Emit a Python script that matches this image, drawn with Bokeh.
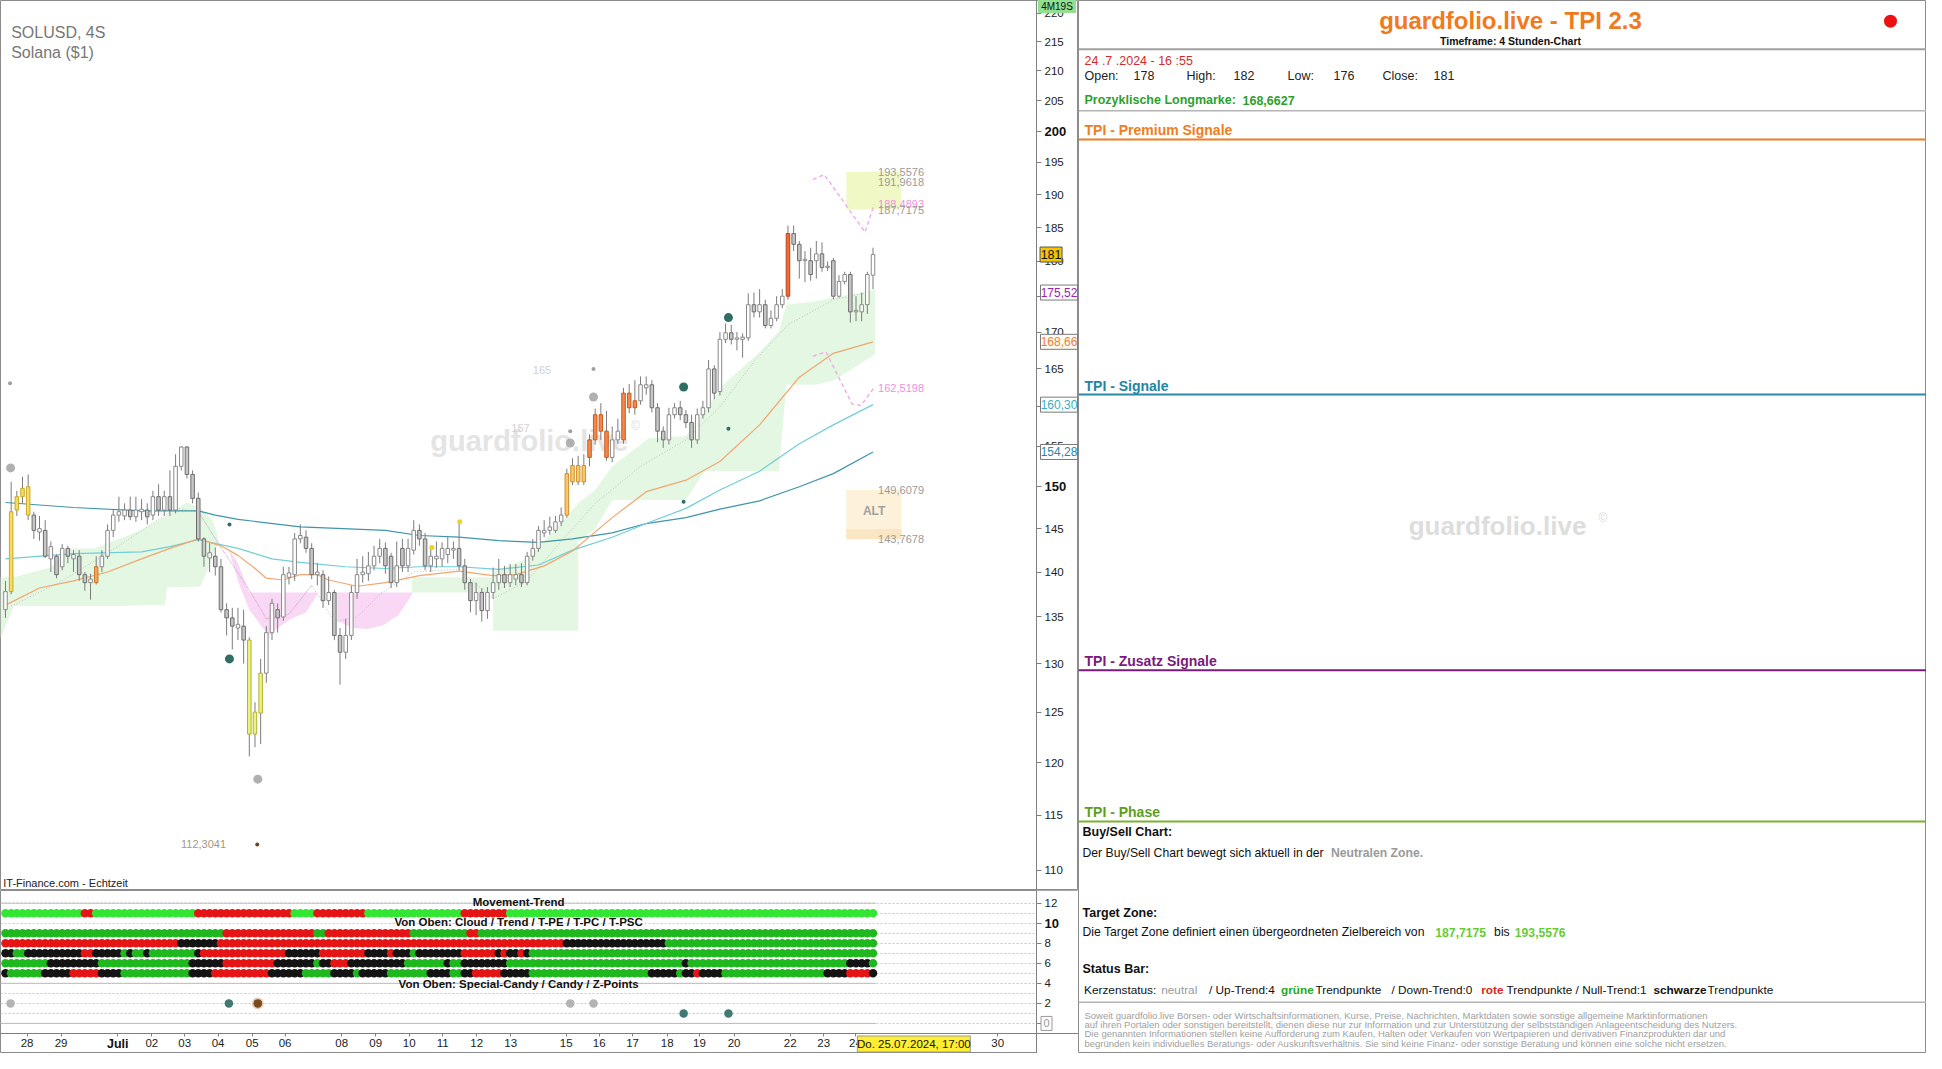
from bokeh.plotting import figure
from bokeh.layouts import row, column
from bokeh.models import Range1d, FixedTicker, NumeralTickFormatter
from bokeh.core.properties import value
from bokeh.embed import file_html
from bokeh.resources import INLINE

SANS = "'Liberation Sans', Arial, sans-serif"
NARROW = "'Liberation Sans Narrow', 'Arial Narrow', 'Liberation Sans', Arial, sans-serif"

# ---------------- price data (4h candles, SOLUSD) ----------------
OPEN = [135.8, 137.8, 147.2, 148.8, 150.0, 146.6, 144.6, 144.8, 141.5, 141.8,
        140.6, 142.7, 141.5, 141.8, 139.7, 138.8, 138.8, 140.6, 141.8, 144.8,
        146.6, 146.5, 147.2, 146.4, 147.0, 147.2, 146.6, 148.8, 147.2, 148.8,
        147.2, 152.5, 154.9, 151.5, 148.6, 143.8, 141.6, 141.8, 140.6, 135.8,
        134.9, 133.8, 134.0, 132.5, 122.8, 124.9, 129.0, 133.3, 135.8, 135.0,
        139.4, 139.7, 143.8, 144.0, 142.7, 139.7, 139.7, 136.8, 137.7, 133.0,
        131.2, 133.0, 137.7, 139.7, 139.8, 140.7, 141.8, 142.7, 141.8, 138.8,
        142.7, 140.7, 142.5, 144.8, 143.8, 140.7, 141.5, 141.5, 142.0, 142.5,
        142.7, 140.7, 138.8, 136.8, 137.7, 135.7, 137.7, 138.8, 139.7, 138.8,
        139.2, 139.7, 138.8, 141.8, 142.7, 144.5, 144.8, 144.8, 145.8, 146.6,
        150.6, 152.6, 150.6, 153.6, 155.8, 159.0, 156.9, 153.6, 155.8, 155.8,
        161.8, 159.9, 160.8, 162.5, 162.9, 159.9, 156.9, 155.8, 159.0, 159.9,
        159.0, 158.0, 155.8, 159.0, 159.9, 165.0, 162.0, 169.0, 169.9, 169.0,
        169.0, 169.2, 173.8, 172.8, 173.8, 170.9, 171.9, 173.8, 175.0, 184.1,
        182.5, 180.1, 180.1, 180.1, 181.1, 179.1, 180.1, 175.0, 177.1, 178.1,
        172.8, 172.8, 173.8, 178.0]
HIGH = [139.0, 150.6, 149.5, 151.2, 151.5, 147.0, 146.5, 146.0, 143.5, 142.0,
        143.2, 143.0, 142.5, 142.5, 140.0, 139.8, 141.8, 142.5, 145.5, 147.3,
        148.8, 148.0, 148.8, 148.8, 148.5, 148.0, 149.5, 150.3, 149.5, 152.0,
        154.0, 155.0, 155.0, 152.0, 149.3, 144.0, 143.3, 142.8, 141.5, 136.5,
        136.0, 136.0, 135.8, 132.8, 126.0, 130.5, 134.0, 137.0, 136.5, 140.6,
        140.6, 144.5, 145.5, 144.8, 143.3, 141.0, 140.2, 139.5, 138.0, 133.8,
        134.8, 138.5, 141.5, 141.8, 142.3, 143.0, 143.8, 143.4, 142.2, 143.5,
        143.8, 143.8, 146.0, 145.5, 144.5, 143.0, 143.5, 143.4, 144.0, 143.5,
        145.8, 141.5, 139.2, 138.8, 138.2, 138.3, 140.5, 141.5, 140.7, 140.9,
        140.9, 141.0, 142.3, 143.8, 145.3, 146.0, 146.4, 146.5, 147.5, 152.2,
        153.5, 153.8, 154.0, 156.5, 159.8, 160.5, 159.5, 157.5, 158.5, 162.5,
        163.0, 163.5, 164.0, 164.0, 163.5, 160.5, 157.5, 159.9, 160.5, 160.8,
        159.6, 159.0, 159.8, 160.8, 166.2, 165.5, 170.0, 171.2, 171.0, 170.0,
        169.8, 175.4, 175.5, 176.0, 174.5, 173.0, 175.0, 176.0, 185.3, 185.3,
        183.0, 181.5, 182.0, 183.0, 182.8, 180.0, 180.5, 178.0, 178.5, 178.5,
        175.0, 175.5, 178.5, 182.0]
LOW = [134.9, 137.5, 146.5, 148.0, 146.0, 143.8, 143.6, 141.6, 140.0, 139.3,
       140.2, 141.0, 140.0, 139.0, 137.9, 136.9, 138.6, 140.0, 141.5, 144.0,
       145.8, 146.0, 146.0, 145.8, 146.0, 145.5, 146.0, 146.5, 146.5, 146.5,
       146.8, 152.0, 151.0, 148.0, 143.5, 140.6, 140.0, 139.6, 135.5, 133.0,
       131.5, 132.5, 130.0, 120.6, 121.5, 121.8, 128.0, 132.5, 133.3, 134.6,
       138.6, 139.0, 143.3, 142.2, 139.2, 138.5, 136.0, 136.3, 132.5, 127.8,
       130.5, 132.5, 137.0, 138.8, 139.0, 140.2, 141.0, 139.8, 138.2, 138.3,
       140.0, 140.0, 142.0, 143.0, 140.2, 140.0, 140.5, 140.6, 141.0, 141.5,
       140.2, 138.0, 135.5, 135.2, 134.5, 134.8, 137.0, 138.0, 138.2, 138.3,
       138.5, 138.3, 138.5, 141.3, 142.3, 144.0, 144.3, 144.5, 145.3, 146.3,
       150.2, 150.2, 150.2, 152.5, 155.2, 155.8, 153.2, 153.0, 155.3, 155.3,
       159.2, 159.0, 160.3, 161.6, 159.3, 155.5, 154.8, 155.2, 158.5, 158.3,
       157.3, 154.8, 155.3, 158.5, 159.3, 161.0, 161.5, 168.5, 168.3, 167.5,
       166.5, 168.8, 172.0, 172.0, 170.5, 170.5, 171.5, 173.3, 174.5, 181.5,
       177.5, 177.0, 177.2, 177.5, 178.5, 178.6, 174.6, 174.8, 176.7, 171.3,
       171.5, 171.5, 172.5, 176.0]
CLOSE = [137.8, 147.0, 148.8, 149.8, 146.6, 144.8, 145.0, 141.8, 142.9, 139.7,
         142.7, 141.8, 142.0, 139.7, 138.8, 139.2, 140.6, 141.8, 144.8, 146.6,
         147.0, 147.2, 146.4, 147.2, 147.3, 146.4, 148.8, 147.2, 148.8, 147.2,
         152.5, 154.9, 151.5, 148.6, 143.8, 141.8, 142.2, 140.6, 135.8, 134.9,
         134.0, 134.2, 132.5, 122.8, 125.0, 129.0, 133.3, 136.5, 134.9, 139.7,
         139.9, 143.8, 144.2, 142.7, 139.7, 140.0, 136.8, 137.7, 133.0, 131.2,
         133.0, 137.7, 139.7, 140.0, 140.7, 141.8, 142.7, 140.7, 138.8, 140.7,
         140.7, 142.7, 144.8, 143.8, 140.7, 141.8, 141.8, 142.7, 142.7, 142.7,
         140.7, 138.8, 136.8, 137.7, 135.7, 137.7, 138.8, 139.7, 138.8, 139.7,
         139.7, 138.8, 141.8, 142.7, 144.8, 144.8, 145.2, 145.8, 146.6, 151.6,
         152.6, 150.6, 152.6, 155.8, 159.0, 156.9, 153.6, 155.8, 156.9, 161.8,
         159.9, 160.8, 162.9, 162.9, 159.9, 156.9, 155.8, 159.0, 159.9, 159.0,
         158.0, 155.8, 159.0, 159.9, 165.0, 161.8, 169.0, 169.9, 169.0, 169.2,
         169.3, 173.8, 172.8, 173.8, 170.9, 171.9, 173.8, 175.0, 184.1, 182.5,
         180.1, 180.3, 178.1, 181.1, 179.1, 179.3, 175.0, 177.1, 178.1, 172.8,
         173.0, 173.8, 178.1, 181.0]
N = len(OPEN)
IDX = list(range(N))

# special candle colouring (signal candles)
CANDLE_MARK = {1: "y", 2: "y", 3: "y", 4: "y", 16: "p", 43: "l", 44: "l", 45: "l",
               99: "a", 100: "a", 101: "a", 102: "a", 103: "o", 104: "o", 105: "o",
               106: "o", 109: "o", 110: "o", 111: "o", 138: "r"}
MARK_FILL = {"y": "#f8dc5e", "l": "#eef27e", "a": "#f8c76a", "o": "#f2894a",
             "p": "#f4a45a", "r": "#f06a32"}
MARK_LINE = {"y": "#c8a92a", "l": "#b0b03a", "a": "#d09030", "o": "#c75a1c",
             "p": "#c97a30", "r": "#b8441a"}

# ---------------- indicator lines ----------------
EMA_FAST_X = [0, 6, 12, 18, 24, 29, 34, 38, 41, 44, 46, 49, 52, 55, 57, 62, 67, 73, 80,
              86, 90, 95, 100, 107, 113, 120, 126, 133, 140, 146, 153]
EMA_FAST = [136.3, 138.2, 139.0, 140.0, 141.5, 142.7, 143.8, 143.0, 141.9, 140.4, 139.3,
            139.1, 139.7, 139.7, 139.1, 138.4, 138.8, 139.6, 140.1, 139.6, 139.7, 140.7,
            142.4, 146.3, 149.4, 150.8, 153.1, 157.7, 163.9, 167.1, 168.66]
EMA_MID_X = [0, 12, 24, 29, 34, 41, 47, 52, 60, 67, 73, 80, 87, 94, 100, 107, 113, 120,
             126, 133, 140, 146, 153]
EMA_MID = [141.5, 142.1, 142.3, 142.9, 143.7, 142.7, 141.5, 141.1, 140.6, 140.4, 140.6,
           140.6, 140.3, 140.8, 142.5, 144.0, 145.6, 147.4, 149.6, 151.9, 155.3, 157.7,
           160.30]
SMA_SLOW_X = [0, 12, 24, 34, 37, 41, 52, 67, 73, 80, 87, 94, 100, 107, 113, 120, 126,
              133, 140, 146, 153]
SMA_SLOW = [148.1, 147.5, 147.1, 147.1, 146.6, 146.1, 145.2, 144.8, 144.2, 144.0, 143.6,
            143.4, 143.8, 144.5, 145.6, 146.3, 147.3, 148.3, 150.0, 151.6, 154.28]
KIJUN_X = [1, 10, 20, 30, 34, 38, 43, 46, 50, 54, 58, 62, 66, 72, 80, 86, 92, 98, 104,
           112, 120, 126, 132, 138, 146, 152]
KIJUN = [136.2, 139.0, 143.0, 147.4, 147.0, 142.8, 138.0, 134.8, 135.3, 138.5, 134.5,
         135.0, 137.5, 140.0, 140.3, 137.0, 139.0, 143.5, 148.0, 152.5, 155.8, 160.0,
         166.0, 171.0, 174.5, 175.5]

CLOUD1_X = [-0.9, 1.5, 8, 11.5, 15.6, 20, 23.8, 28.1, 28.5, 32, 34.4, 36.5, 37.5]
CLOUD1_UP = [139.4, 139.4, 140.5, 142.7, 142.7, 143.8, 144.8, 146.4, 146.6, 148.1, 147.4,
             146.0, 144.0]
CLOUD1_LO = [132.7, 136.2, 136.2, 136.2, 136.2, 136.2, 136.3, 136.3, 138.3, 138.3, 138.4,
             141.5, 143.5]
CLOUD2_X = [71.7, 86.0, 86.01, 92, 98.3, 101, 101.01, 104, 107, 113.5, 120, 123.3, 126.6,
            133.1, 136.4, 137.7, 142.9, 146.2, 153.4]
CLOUD2_UP = [139.4, 139.4, 140.0, 141.5, 145.9, 148.0, 148.0, 149.6, 152.5, 156.0, 156.3,
             159.4, 162.9, 167.3, 170.1, 173.8, 174.3, 174.8, 175.9]
CLOUD2_LO = [137.7, 137.7, 133.5, 133.5, 133.5, 133.5, 143.5, 145.0, 148.4, 148.4, 148.4,
             151.9, 151.9, 151.9, 151.9, 162.9, 162.9, 163.5, 167.0]
PINK1_X = [39.5, 41, 43, 46.4, 48, 50.4, 53, 55]
PINK1_UP = [142.5, 141.0, 137.7, 137.7, 137.7, 137.7, 137.7, 137.7]
PINK1_LO = [142.3, 139.0, 135.8, 133.0, 133.8, 134.8, 135.5, 137.5]
PINK2_X = [58.5, 61.2, 63.9, 66.6, 69.3, 71.7]
PINK2_UP = [137.7, 137.7, 137.7, 137.7, 137.7, 137.7]
PINK2_LO = [134.6, 133.8, 133.7, 134.1, 135.2, 137.5]

ZIG_UP_X = [142.4, 144.4, 151.6, 153.2]
ZIG_UP = [192.3, 193.1, 184.3, 188.4893]
ZIG_LO_X = [142.4, 144.7, 149.3, 150.9, 153.2]
ZIG_LO = [166.7, 167.3, 160.4, 160.2, 162.5198]

TARGET_LOW, TARGET_MID_A, TARGET_MID_B, TARGET_HIGH = 187.7175, 188.4893, 191.9618, 193.5576
ALT_LOW, ALT_HIGH = 143.7678, 149.6079
PINK_LEVEL = 162.5198
LOW_MARK = 112.3041

BIG_GRAY_X = [0.9, 44.5, 99.6, 103.7]
BIG_GRAY_Y = [152.3, 118.4, 155.4, 161.3]
SMALL_GRAY_X = [0.8, 99.6, 103.7]
SMALL_GRAY_Y = [163.1, 156.9, 165.0]
BIG_TEAL_X = [39.5, 119.6, 127.5]
BIG_TEAL_Y = [130.5, 162.6, 172.0]
SMALL_TEAL_X = [39.5, 119.6, 127.5]
SMALL_TEAL_Y = [145.5, 148.2, 157.2]
YELLOW_X = [75.2, 80.1]
YELLOW_Y = [142.8, 145.8]
BROWN_X = [44.4]

LAST_CLOSE = 181
LEVEL_PURPLE = 175.52
LEVEL_ORANGE = 168.66
LEVEL_CYAN = 160.30
LEVEL_TEAL = 154.28

PRICE_TICKS = [110, 115, 120, 125, 130, 135, 140, 145, 150, 155, 160, 165, 170, 175,
               180, 185, 190, 195, 200, 205, 210, 215, 220]

# ---------------- status dots (run lengths per candle) ----------------
MOVEMENT = [("G", 14), ("R", 2), ("G", 18), ("R", 17), ("G", 4), ("R", 9), ("G", 17),
            ("R", 8), ("G", 65)]
CLOUD_ROW = [("G", 39), ("R", 16), ("G", 2), ("R", 15), ("G", 10), ("R", 2), ("G", 70)]
TREND_ROW = [("R", 31), ("K", 7), ("R", 61), ("K", 18), ("G", 37)]
TPE_ROW = [("K", 2), ("G", 2), ("K", 10), ("R", 2), ("K", 5), ("G", 1), ("K", 1), ("G", 2),
           ("K", 1), ("G", 8), ("K", 1), ("R", 15), ("K", 6), ("R", 8), ("K", 4), ("R", 1),
           ("K", 3), ("G", 1), ("K", 8), ("R", 6), ("K", 1), ("R", 1), ("K", 2), ("R", 1),
           ("K", 1), ("G", 61)]
TPC_ROW = [("G", 8), ("K", 9), ("G", 16), ("K", 6), ("R", 9), ("K", 7), ("G", 1), ("K", 2),
           ("R", 3), ("K", 10), ("G", 7), ("K", 1), ("G", 2), ("K", 8), ("G", 31), ("K", 1),
           ("G", 28), ("K", 4), ("G", 1)]
TPSC_ROW = [("K", 1), ("G", 6), ("K", 5), ("R", 5), ("K", 4), ("G", 12), ("K", 4), ("R", 10),
            ("K", 6), ("G", 5), ("K", 4), ("G", 1), ("K", 5), ("G", 7), ("K", 4), ("G", 2),
            ("K", 2), ("R", 5), ("K", 5), ("G", 21), ("K", 5), ("G", 1), ("K", 2), ("R", 1),
            ("K", 4), ("G", 18), ("K", 4), ("R", 4), ("K", 1)]
SPECIAL_CANDY_X = [0.9, 39.4, 44.5, 99.6, 103.7]
SPECIAL_CANDY_C = ["#b4b4b4", "#3f7b73", "#7a4a1e", "#b4b4b4", "#b4b4b4"]
ZPOINT_X = [119.6, 127.5]

DATE_POS = [3.8, 9.8, 19.8, 25.8, 31.6, 37.5, 43.5, 49.3, 59.3, 65.3, 71.2, 77.1, 83.1,
            89.1, 98.9, 104.7, 110.6, 116.7, 122.4, 128.5, 138.4, 144.3, 149.9, 175.0]
DATE_LBL = ["28", "29", "Juli", "02", "03", "04", "05", "06", "08", "09", "10", "11", "12",
            "13", "15", "16", "17", "18", "19", "20", "22", "23", "24", "30"]

# ---------------- layout constants ----------------
X_START, X_AXIS, X_END = -0.88, 181.84, 189.24   # frame left / price-axis line / right edge
XR = Range1d(X_START, X_END)


def ptxt(fig, x, y, s, color, size="11px", style="normal", align="left", font=SANS,
         level="glyph"):
    fig.text(x=[x], y=[y], text=[s], text_color=color, text_font_size=size,
             text_font_style=style, text_align=align, text_baseline="middle",
             text_font=value(font), level=level)


def boxed(fig, xc, y, w, h, s, color, bg, border, size="12px", style="normal"):
    fig.rect(x=[xc], y=[y], width=w, height=h, width_units="screen", height_units="screen",
             fill_color=bg, line_color=border, line_width=1, level="overlay")
    ptxt(fig, xc, y, s, color, size, style, "center", SANS, "overlay")


def style_axis(ax):
    ax.minor_tick_line_color = None
    ax.major_tick_in = 0
    ax.axis_line_color = "#808080"
    ax.major_tick_line_color = "#808080"
    ax.major_label_text_font = SANS
    ax.major_label_text_font_size = "11.5px"
    ax.major_label_text_color = "#222222"


# =====================================================================
p = figure(width=1078, height=890, x_range=XR, y_range=Range1d(108.2, 222.3),
           y_axis_type="log", y_axis_location="right", x_axis_location=None,
           toolbar_location=None, output_backend="svg",
           min_border_left=0, min_border_right=0, min_border_top=0, min_border_bottom=0,
           outline_line_color="#8c8c8c", background_fill_color="white",
           border_fill_color="white")
p.grid.visible = False
ya = p.yaxis[0]
ya.fixed_location = X_AXIS
ya.ticker = FixedTicker(ticks=PRICE_TICKS)
ya.formatter = NumeralTickFormatter(format="0")
ya.major_label_overrides = {150: " ", 200: " "}
ya.major_tick_out = 5
ya.major_label_standoff = 3
style_axis(ya)

# clouds
p.varea(x=CLOUD1_X, y1=CLOUD1_LO, y2=CLOUD1_UP, fill_color="#e3f7e3")
p.varea(x=CLOUD2_X, y1=CLOUD2_LO, y2=CLOUD2_UP, fill_color="#e3f7e3")
p.varea(x=PINK1_X, y1=PINK1_LO, y2=PINK1_UP, fill_color="#f9d8f5")
p.varea(x=PINK2_X, y1=PINK2_LO, y2=PINK2_UP, fill_color="#f9d8f5")

# zones
p.quad(left=148.3, right=158.0, bottom=TARGET_LOW, top=TARGET_HIGH,
       fill_color="#f0f8c6", line_color=None)
p.quad(left=148.3, right=158.0, bottom=ALT_LOW, top=ALT_HIGH,
       fill_color="#fdf1da", line_color=None)
p.quad(left=148.3, right=158.0, bottom=ALT_LOW, top=(ALT_LOW + 1.2),
       fill_color="#fbe6c3", line_color=None)

# watermark
ptxt(p, 92.4, 155.7, "guardfolio.live", "#e4e4e4", "29px", "bold", "center")
ptxt(p, 110.3, 157.6, "©", "#dddddd", "12px")

# lines
p.line(KIJUN_X, KIJUN, line_color="#bdbdbd", line_dash="1 2", line_width=1)
p.line(KIJUN_X[4:10], KIJUN[4:10], line_color="#e59ad9", line_dash="1 2", line_width=1)
p.line(SMA_SLOW_X, SMA_SLOW, line_color="#3f96a8", line_width=1.2)
p.line(EMA_MID_X, EMA_MID, line_color="#72cdd6", line_width=1.2)
p.line(EMA_FAST_X, EMA_FAST, line_color="#f2a66e", line_width=1.2)
p.line(ZIG_UP_X, ZIG_UP, line_color="#f2b0e8", line_dash="4 3", line_width=1.5)
p.line(ZIG_LO_X, ZIG_LO, line_color="#f2b0e8", line_dash="4 3", line_width=1.5)

# candles
fills, lines_c = [], []
for i in IDX:
    m = CANDLE_MARK.get(i)
    if m:
        fills.append(MARK_FILL[m]); lines_c.append(MARK_LINE[m])
    elif CLOSE[i] < OPEN[i]:
        fills.append("#c6c6c6"); lines_c.append("#6e6e6e")
    else:
        fills.append("#ffffff"); lines_c.append("#8a8a8a")
p.segment(x0=IDX, y0=LOW, x1=IDX, y1=HIGH, line_color="#7c7c7c", line_width=1)
p.vbar(x=IDX, width=0.62, top=[max(o, c) for o, c in zip(OPEN, CLOSE)],
       bottom=[min(o, c) for o, c in zip(OPEN, CLOSE)], fill_color=fills,
       line_color=lines_c, line_width=1)

# signal dots
p.scatter(BIG_GRAY_X, BIG_GRAY_Y, size=9, fill_color="#b0b0b0", line_color=None)
p.scatter(SMALL_GRAY_X, SMALL_GRAY_Y, size=4, fill_color="#a0a0a0", line_color=None)
p.scatter(BIG_TEAL_X, BIG_TEAL_Y, size=9, fill_color="#2f6e64", line_color=None)
p.scatter(SMALL_TEAL_X, SMALL_TEAL_Y, size=4, fill_color="#2f6e64", line_color=None)
p.scatter(YELLOW_X, YELLOW_Y, size=5, fill_color="#f2d21a", line_color=None)
p.scatter(BROWN_X, [LOW_MARK], size=4, fill_color="#6e4418", line_color=None)

# texts on chart
ptxt(p, 1.0, 216.6, "SOLUSD, 4S", "#777777", "16px")
ptxt(p, 1.0, 213.2, "Solana ($1)", "#777777", "16px")
ptxt(p, -0.4, 108.85, "IT-Finance.com - Echtzeit", "#222222", "11px")
ptxt(p, 93.0, 164.9, "165", "#d2d2d2", "11px")
ptxt(p, 89.2, 157.3, "157", "#d2d2d2", "11px")
ptxt(p, 38.9, LOW_MARK, "112,3041", "#a89878", "11px", align="right")
ptxt(p, 153.9, TARGET_HIGH, "193,5576", "#9a9a9a", "11px")
ptxt(p, 153.9, TARGET_MID_B, "191,9618", "#9a9a9a", "11px")
ptxt(p, 153.9, TARGET_MID_A, "188,4893", "#ee8fe0", "11px")
ptxt(p, 153.9, TARGET_LOW, "187,7175", "#9a9a9a", "11px")
ptxt(p, 153.9, PINK_LEVEL, "162,5198", "#ee8fe0", "11px")
ptxt(p, 153.9, ALT_HIGH, "149,6079", "#9a9a9a", "11px")
ptxt(p, 153.9, ALT_LOW, "143,7678", "#9a9a9a", "11px")
ptxt(p, 153.2, 147.1, "ALT", "#a0a0a0", "12px", "bold", "center")

# price axis: bold round levels and boxed current levels
ptxt(p, 183.25, 150, "150", "#111111", "13px", "bold", level="overlay")
ptxt(p, 183.25, 200, "200", "#111111", "13px", "bold", level="overlay")
boxed(p, 185.8, LEVEL_TEAL, 37, 15, "154,28", "#2a86a8", "white", "#7a7a7a")
boxed(p, 185.8, LEVEL_CYAN, 37, 15, "160,30", "#3aaebe", "white", "#7a7a7a")
boxed(p, 185.8, LEVEL_ORANGE, 37, 15, "168,66", "#e8803a", "#fff8f0", "#7a7a7a")
boxed(p, 185.8, LEVEL_PURPLE, 37, 15, "175,52", "#a020b0", "white", "#7a7a7a")
boxed(p, 184.4, LAST_CLOSE, 22, 15, "181", "#111111", "#f5c400", "#555555", size="12.5px")
boxed(p, 185.45, 221.3, 37, 13, "4M19S", "#111111", "#90e090", "#90e090", size="10px")

# =====================================================================
p2 = figure(width=1078, height=163, x_range=XR, y_range=Range1d(-3.0, 13.26),
            x_axis_location="below", y_axis_location="right", toolbar_location=None,
            output_backend="svg", min_border_left=0, min_border_right=0, min_border_top=0,
            min_border_bottom=0, outline_line_color="#8c8c8c",
            background_fill_color="white", border_fill_color="white")
p2.xgrid.visible = False
p2.ygrid.ticker = FixedTicker(ticks=list(range(0, 13)))
p2.ygrid.grid_line_color = "#c9c9c9"
p2.ygrid.grid_line_dash = "2 2"
ya2 = p2.yaxis[0]
ya2.fixed_location = X_AXIS
ya2.ticker = FixedTicker(ticks=[0, 2, 4, 6, 8, 10, 12])
ya2.major_label_overrides = {0: " ", 10: " "}
ya2.major_tick_out = 5
ya2.major_label_standoff = 3
style_axis(ya2)
xa2 = p2.xaxis[0]
xa2.fixed_location = -1.0
xa2.ticker = FixedTicker(ticks=DATE_POS)
overrides = {pos: lab for pos, lab in zip(DATE_POS, DATE_LBL)}
overrides[19.8] = " "
xa2.major_label_overrides = overrides
xa2.major_tick_out = 3
xa2.major_label_standoff = 1
style_axis(xa2)

# keep the axis column free of grid lines
p2.quad(left=X_AXIS, right=X_END, bottom=-3.0, top=13.26, fill_color="white", line_color=None)
p2.segment(x0=[X_START] * 3, x1=[153.5] * 3, y0=[12, 4, 0], y1=[12, 4, 0],
           line_color="#bdbdbd", line_width=1)


def expand(runs):
    return [c for c, n in runs for _ in range(n)]


ROW_SPECS = [(MOVEMENT, 11, "#33e633"), (CLOUD_ROW, 9, "#1fb81f"), (TREND_ROW, 8, "#1fb81f"),
             (TPE_ROW, 7, "#1fb81f"), (TPC_ROW, 6, "#1fb81f"), (TPSC_ROW, 5, "#1fb81f")]
for runs, yv, green in ROW_SPECS:
    cmap = {"G": green, "R": "#e51515", "K": "#141414"}
    cols = [cmap[c] for c in expand(runs)]
    p2.scatter(IDX, [yv] * N, size=8.5, fill_color=cols, line_color=None)

p2.scatter(SPECIAL_CANDY_X[2:3], [2], size=12, fill_color="#c8a070", fill_alpha=0.5,
           line_color=None)
p2.scatter(SPECIAL_CANDY_X, [2] * len(SPECIAL_CANDY_X), size=8.5, fill_color=SPECIAL_CANDY_C,
           line_color=None)
p2.scatter(ZPOINT_X, [1] * len(ZPOINT_X), size=8.5, fill_color="#3f7b73", line_color=None)

ptxt(p2, 90.5, 12.15, "Movement-Trend", "#111111", "11.5px", "bold", "center")
ptxt(p2, 90.5, 10.1, "Von Oben: Cloud / Trend / T-PE / T-PC / T-PSC", "#111111", "11.5px",
     "bold", "center")
ptxt(p2, 90.5, 3.9, "Von Oben: Special-Candy / Candy / Z-Points", "#111111", "11.5px",
     "bold", "center")

ptxt(p2, 183.25, 10, "10", "#111111", "13px", "bold", level="overlay")
boxed(p2, 183.6, 0, 11, 14, "0", "#999999", "white", "#999999", size="11px")
ptxt(p2, 19.8, -2.1, "Juli", "#111111", "12.5px", "bold", "center", level="overlay")
boxed(p2, 160.2, -2.05, 113, 16, "Do. 25.07.2024, 17:00", "#111111", "#ffee33", "#999999",
      size="11.5px")

# =====================================================================
p3 = figure(width=848, height=1053, x_range=Range1d(0, 848), y_range=Range1d(1069, 0),
            x_axis_location=None, y_axis_location=None, toolbar_location=None,
            output_backend="svg", min_border=0, outline_line_color="#8c8c8c",
            background_fill_color="white", border_fill_color="white")
p3.grid.visible = False

RULE_Y = [49.5, 112, 141, 400, 680, 833.5, 1017]
RULE_C = ["#a0a0a0", "#b4b4b4", "#ef7d22", "#2a8aa8", "#7a1a7a", "#7cb030", "#b4b4b4"]
RULE_W = [2, 1.5, 2, 2, 2, 2, 1.5]
p3.segment(x0=[0] * 7, x1=[848] * 7, y0=RULE_Y, y1=RULE_Y, line_color=RULE_C, line_width=RULE_W)
p3.scatter([812], [21], size=13, fill_color="#ee1111", line_color=None)

BODY = "12.2px"
STATUS = "11.8px"
ptxt(p3, 432, 20, "guardfolio.live - TPI 2.3", "#f07a1e", "24px", "bold", "center", NARROW)
ptxt(p3, 432, 41.5, "Timeframe: 4 Stunden-Chart", "#111111", "10.5px", "bold", "center", NARROW)
ptxt(p3, 6, 61, "24 .7 .2024 - 16 :55", "#d42a2a", "12.5px", font=NARROW)
for xx, s in [(6, "Open:"), (55, "178"), (108, "High:"), (155, "182"), (209, "Low:"),
              (255, "176"), (304, "Close:"), (355, "181")]:
    ptxt(p3, xx, 76.5, s, "#222222", "12.5px", font=NARROW)
ptxt(p3, 6, 101.5, "Prozyklische Longmarke:", "#2ca02c", "12.5px", "bold", font=NARROW)
ptxt(p3, 164, 101.5, "168,6627", "#2ca02c", "12.5px", "bold", font=NARROW)
ptxt(p3, 6, 131, "TPI - Premium Signale", "#ef7d22", "14px", "bold", font=NARROW)
ptxt(p3, 6, 391, "TPI - Signale", "#1f85a5", "14px", "bold", font=NARROW)
ptxt(p3, 419, 533, "guardfolio.live", "#dddddd", "26px", "bold", "center")
ptxt(p3, 520, 525, "©", "#dddddd", "12px")
ptxt(p3, 6, 671, "TPI - Zusatz Signale", "#7a1a7a", "14px", "bold", font=NARROW)
ptxt(p3, 6, 823.5, "TPI - Phase", "#5e9e1e", "14px", "bold", font=NARROW)
ptxt(p3, 4, 844, "Buy/Sell Chart:", "#111111", "12.5px", "bold", font=NARROW)
ptxt(p3, 4, 865, "Der Buy/Sell Chart bewegt sich aktuell in der", "#111111", BODY,
     font=NARROW)
ptxt(p3, 252.5, 865, "Neutralen Zone.", "#9a9a9a", BODY, "bold", font=NARROW)
ptxt(p3, 4, 926, "Target Zone:", "#111111", "12.5px", "bold", font=NARROW)
ptxt(p3, 4, 946, "Die Target Zone definiert einen übergeordneten Zielbereich von", "#111111",
     BODY, font=NARROW)
ptxt(p3, 356.8, 946, "187,7175", "#66cc33", BODY, "bold", font=NARROW)
ptxt(p3, 415.6, 946, "bis", "#111111", BODY, font=NARROW)
ptxt(p3, 436.3, 946, "193,5576", "#66cc33", BODY, "bold", font=NARROW)
ptxt(p3, 4, 983.5, "Status Bar:", "#111111", "12.5px", "bold", font=NARROW)
for xx, s, c, st in [(5.6, "Kerzenstatus:", "#111111", "normal"),
                     (82.7, "neutral", "#9a9a9a", "normal"),
                     (130.5, "/ Up-Trend:4", "#111111", "normal"),
                     (202.5, "grüne", "#22aa22", "bold"),
                     (237, "Trendpunkte", "#111111", "normal"),
                     (313, "/ Down-Trend:0", "#111111", "normal"),
                     (402.7, "rote", "#dd2222", "bold"),
                     (428, "Trendpunkte / Null-Trend:1", "#111111", "normal"),
                     (575, "schwarze", "#111111", "bold"),
                     (629, "Trendpunkte", "#111111", "normal")]:
    ptxt(p3, xx, 1005, s, c, STATUS, st, font=NARROW)
DISCLAIMER = [
    "Soweit guardfolio.live Börsen- oder Wirtschaftsinformationen, Kurse, Preise, Nachrichten, Marktdaten sowie sonstige allgemeine Marktinformationen",
    "auf ihren Portalen oder sonstigen bereitstellt, dienen diese nur zur Information und zur Unterstützung der selbstständigen Anlageentscheidung des Nutzers.",
    "Die genannten Informationen stellen keine Aufforderung zum Kaufen, Halten oder Verkaufen von Wertpapieren und derivativen Finanzprodukten dar und",
    "begründen kein individuelles Beratungs- oder Auskunftsverhältnis. Sie sind keine Finanz- oder sonstige Beratung und können eine solche nicht ersetzen.",
]
for k, line in enumerate(DISCLAIMER):
    ptxt(p3, 6, 1030 + 9.6 * k, line, "#a0a0a0", "9.5px")

layout = row(column(p, p2), p3)
open("out.html", "w").write(file_html(layout, INLINE))
